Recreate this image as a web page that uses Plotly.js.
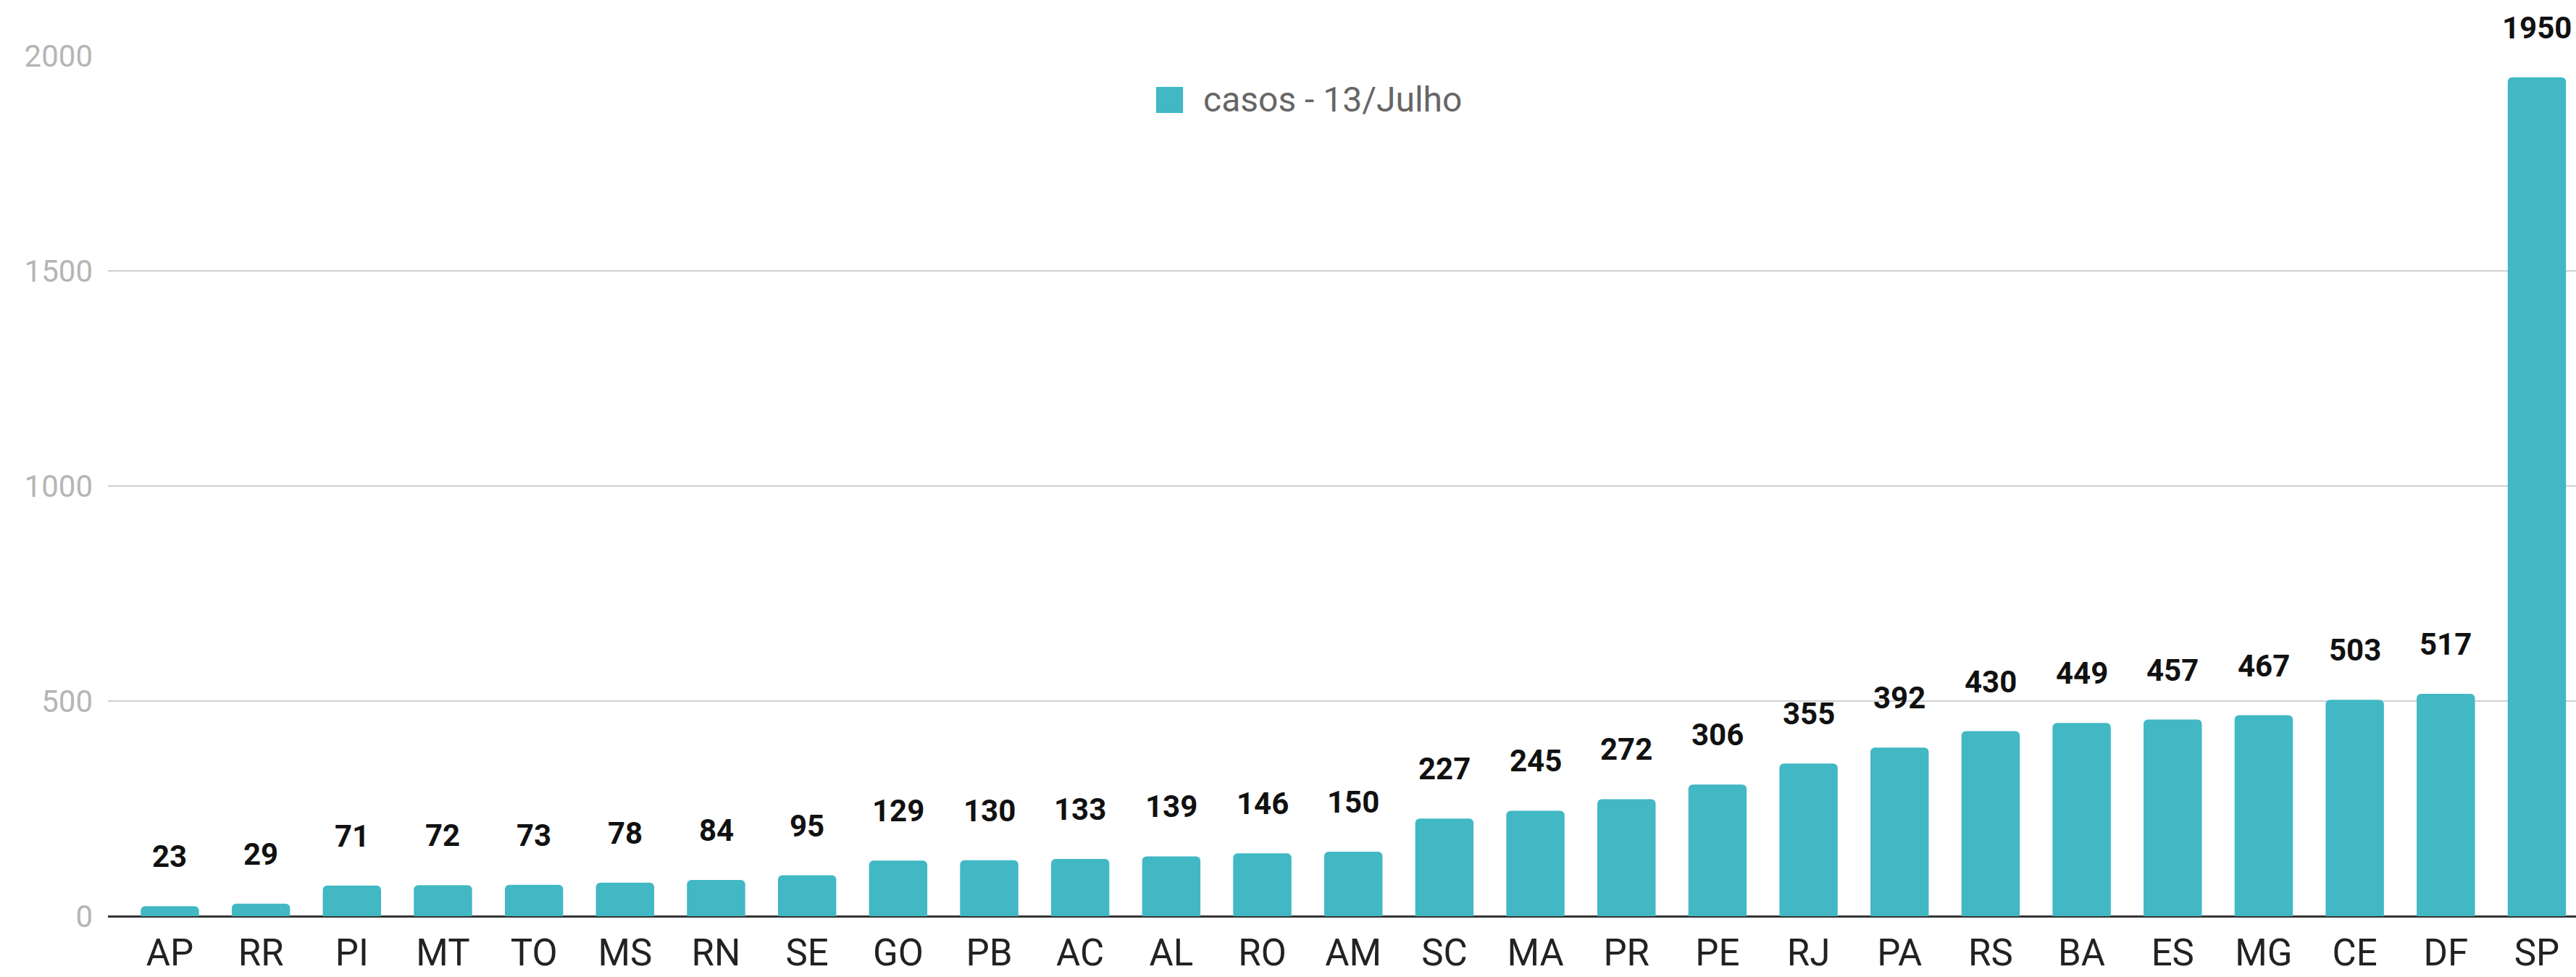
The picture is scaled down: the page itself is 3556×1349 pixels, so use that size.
<!DOCTYPE html>
<html>
<head>
<meta charset="utf-8">
<script src="https://cdn.plot.ly/plotly-3.0.1.min.js"></script>
<style>
  html, body { margin: 0; padding: 0; background: #ffffff; }
  #chart { width: 3556px; height: 1349px; }
</style>
</head>
<body>
<div id="chart"></div>
<script>
const estados = ["AP","RR","PI","MT","TO","MS","RN","SE","GO","PB","AC","AL","RO","AM","SC","MA","PR","PE","RJ","PA","RS","BA","ES","MG","CE","DF","SP"];
const casos = [23,29,71,72,73,78,84,95,129,130,133,139,146,150,227,245,272,306,355,392,430,449,457,467,503,517,1950];
const serieNome = "casos - 13/Julho";
const yTicks = [0, 500, 1000, 1500, 2000];

const barColor = "#41b8c4";

const trace = {
  type: "bar",
  x: estados,
  y: casos,
  name: serieNome,
  width: 0.64,
  marker: { color: barColor, cornerradius: 6 },
  hoverinfo: "x+y",
  showlegend: false
};

const valueLabels = estados.map((e, i) => ({
  x: e,
  y: casos[i],
  xref: "x",
  yref: "y",
  text: "<b>" + casos[i] + "</b>",
  showarrow: false,
  yanchor: "bottom",
  xanchor: "center",
  yshift: 42,
  font: { family: "Roboto, sans-serif", size: 42, color: "#111111" }
}));

const legendLabel = {
  x: 0.4432,
  y: 0.9487,
  xref: "paper",
  yref: "paper",
  text: serieNome,
  showarrow: false,
  xanchor: "left",
  yanchor: "middle",
  font: { family: "Roboto, sans-serif", size: 48, color: "#666666" }
};

const layout = {
  width: 3556,
  height: 1349,
  paper_bgcolor: "#ffffff",
  plot_bgcolor: "#ffffff",
  margin: { l: 149, r: 0, t: 77, b: 84, pad: 0 },
  font: { family: "Roboto, sans-serif" },
  showlegend: false,
  xaxis: {
    type: "category",
    range: [-0.68, 26.43],
    showgrid: false,
    showline: false,
    zeroline: false,
    ticks: "",
    ticklabelstandoff: 16,
    tickfont: { family: "Roboto, sans-serif", size: 51, color: "#222222" },
    fixedrange: true
  },
  yaxis: {
    range: [0, 2000],
    tickvals: yTicks,
    ticktext: yTicks.map(String),
    showgrid: true,
    gridcolor: "#d0d0d0",
    gridwidth: 2,
    zeroline: true,
    zerolinecolor: "#333333",
    zerolinewidth: 3,
    showline: false,
    ticks: "",
    ticklabelstandoff: 20,
    tickfont: { family: "Roboto, sans-serif", size: 42, color: "#b5b5b5" },
    fixedrange: true
  },
  shapes: [{
    type: "rect",
    xref: "paper",
    yref: "paper",
    x0: 0.4247, x1: 0.4356,
    y0: 0.9335, y1: 0.9638,
    fillcolor: barColor,
    line: { width: 0 }
  }],
  annotations: valueLabels.concat([legendLabel])
};

Plotly.newPlot("chart", [trace], layout, { displayModeBar: false, staticPlot: true });
</script>
</body>
</html>
